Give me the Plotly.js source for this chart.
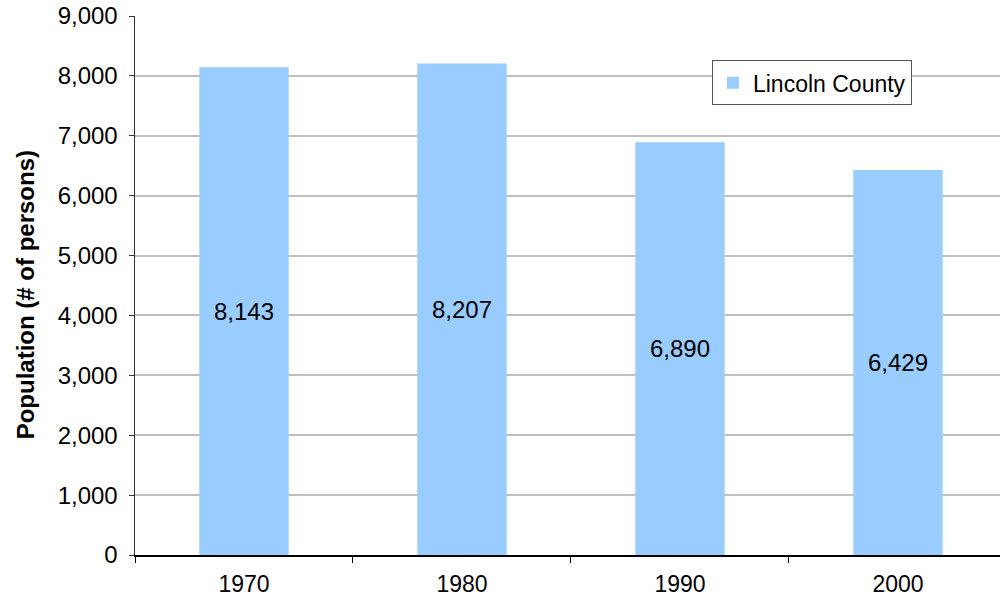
<!DOCTYPE html>
<html><head><meta charset="utf-8">
<script src="https://cdn.plot.ly/plotly-3.0.1.min.js"></script>
<style>html,body{margin:0;padding:0;overflow:hidden;background:#fff}</style>
</head><body>
<div id="chart" style="width:1000px;height:600px"></div>
<script>
const years = ["1970", "1980", "1990", "2000"];
const population = [8143, 8207, 6890, 6429];
const labels = ["8,143", "8,207", "6,890", "6,429"];
const seriesName = "Lincoln County";
const yTitle = "Population (# of persons)";

const font = "Liberation Sans, Arial, sans-serif";
Plotly.newPlot("chart", [{
  type: "bar",
  x: years,
  y: population,
  name: seriesName,
  text: labels,
  textposition: "inside",
  insidetextanchor: "middle",
  textangle: 0,
  textfont: {family: font, size: 24, color: "#000"},
  marker: {color: "#99CCFF", line: {width: 0}},
  width: 0.41,
  showlegend: true,
  hoverinfo: "none"
}], {
  width: 1000, height: 600,
  margin: {l: 135, r: 0, t: 16, b: 45},
  paper_bgcolor: "#fff", plot_bgcolor: "#fff",
  font: {family: font, size: 24, color: "#000"},
  bargap: 0.59,
  showlegend: true,
  legend: {
    x: 0.667, y: 0.918, xanchor: "left", yanchor: "top",
    bgcolor: "#fff", bordercolor: "#555", borderwidth: 1,
    font: {family: font, size: 23, color: "#000"},
    itemwidth: 30, tracegroupgap: 0
  },
  xaxis: {
    type: "category",
    range: [-0.5, 3.468],
    tickson: "boundaries",
    ticks: "outside", ticklen: 6, tickcolor: "#000", tickwidth: 1,
    showline: true, linecolor: "#000", linewidth: 1.5,
    showgrid: false,
    tickfont: {family: font, size: 23, color: "#000"},
    ticklabelstandoff: 8
  },
  yaxis: {
    range: [0, 9000],
    tickvals: [0,1000,2000,3000,4000,5000,6000,7000,8000,9000],
    tickformat: ",d",
    ticks: "outside", ticklen: 5, tickcolor: "#333", tickwidth: 1,
    showline: true, linecolor: "#333", linewidth: 1.5,
    showgrid: true, gridcolor: "#c0c0c0", gridwidth: 2,
    zeroline: false,
    tickfont: {family: font, size: 24, color: "#000"},
    ticklabelstandoff: 6
  },
  annotations: [{
    text: "<b>" + yTitle + "</b>",
    xref: "paper", yref: "paper",
    x: -0.127, y: 0.482, xanchor: "center", yanchor: "middle",
    textangle: -90, showarrow: false,
    font: {family: font, size: 24, color: "#000"}
  }]
}, {staticPlot: true});
</script>
</body></html>
